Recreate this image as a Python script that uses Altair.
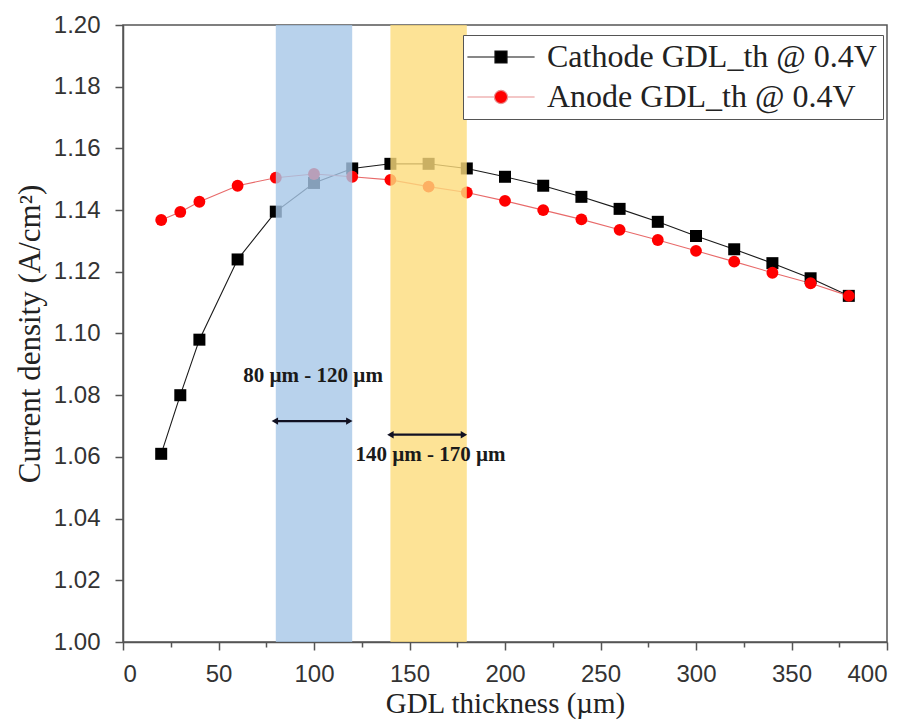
import altair as alt
import pandas as pd

# ---- data ----
thickness = [20, 30, 40, 60, 80, 100, 120, 140, 160, 180, 200, 220, 240, 260, 280, 300, 320, 340, 360, 380]
cathode = [1.061, 1.080, 1.098, 1.124, 1.1395, 1.1488, 1.1535, 1.155, 1.155, 1.1535, 1.1508, 1.1479,
           1.1443, 1.1404, 1.1362, 1.1316, 1.1273, 1.1228, 1.1179, 1.1122]
anode = [1.1368, 1.1394, 1.1427, 1.1479, 1.1505, 1.1517, 1.1508, 1.1498, 1.1476, 1.1457, 1.1430, 1.1400,
         1.1370, 1.1336, 1.1303, 1.1268, 1.1233, 1.1197, 1.1163, 1.1122]
series_names = ["Cathode GDL_th @ 0.4V", "Anode GDL_th @ 0.4V"]

band_start = [80, 140]
band_end = [120, 180]
band_colors = ["#a6c7e7", "#fcdc7c"]

arrow_start = [79.5, 140]
arrow_end = [118.5, 178.5]
arrow_y = [1.0716, 1.0672]
label_text = ["80 \u00b5m - 120 \u00b5m", "140 \u00b5m - 170 \u00b5m"]
label_x = [99.5, 161]
label_y = [1.0862, 1.0606]

x_ticks = list(range(0, 401, 25))
y_ticks = [round(1.0 + 0.01 * i, 2) for i in range(21)]

W, H = 764, 617
SERIF = "Liberation Serif"
SANS = "Liberation Sans"

df = pd.DataFrame({
    "thickness": thickness * 2,
    "value": cathode + anode,
    "series": [series_names[0]] * len(thickness) + [series_names[1]] * len(thickness),
})
bands = pd.DataFrame({"start": band_start, "end": band_end, "color": band_colors})
arrows = pd.DataFrame({"start": arrow_start, "end": arrow_end, "y": arrow_y})
labels = pd.DataFrame({"text": label_text, "x": label_x, "y": label_y})

xscale = alt.Scale(domain=[0, 400], nice=False, zero=False)
yscale = alt.Scale(domain=[1.0, 1.2], nice=False, zero=False)

xaxis = alt.Axis(
    values=x_ticks,
    labelExpr="datum.value % 50 === 0 ? datum.label : ''",
    tickSize={"expr": "datum.value % 50 === 0 ? 8 : 5"},
    title="GDL thickness (\u00b5m)",
    grid=False,
)
yaxis = alt.Axis(
    values=y_ticks,
    format=".2f",
    labelExpr="round(datum.value * 100) % 2 === 0 ? datum.label : ''",
    tickSize={"expr": "round(datum.value * 100) % 2 === 0 ? 8 : 5"},
    title="Current density (A/cm\u00b2)",
    grid=False,
)

X = alt.X("thickness:Q", scale=xscale, axis=xaxis)
Y = alt.Y("value:Q", scale=yscale, axis=yaxis)

base = alt.Chart(df)

cath_line = base.transform_filter(alt.datum.series == series_names[0]).mark_line(
    color="#1a1a1a", strokeWidth=1.1).encode(x=X, y=Y)
an_line = base.transform_filter(alt.datum.series == series_names[1]).mark_line(
    color="#e86a6a", strokeWidth=1.1).encode(x=X, y=Y)
cath_pts = base.transform_filter(alt.datum.series == series_names[0]).mark_point(
    shape="square", filled=True, color="#000000", size=144, opacity=1).encode(x=X, y=Y)
an_pts = base.transform_filter(alt.datum.series == series_names[1]).mark_point(
    shape="circle", filled=True, color="#ff0000", size=140, opacity=1).encode(x=X, y=Y)

band_layer = alt.Chart(bands).mark_rect(opacity=0.8).encode(
    x=alt.X("start:Q", scale=xscale),
    x2="end:Q",
    y=alt.Y(datum=1.0, scale=yscale),
    y2=alt.Y2(datum=1.2),
    fill=alt.Fill("color:N", scale=None, legend=None),
)

arrow_line = alt.Chart(arrows).mark_rule(color="#111122", strokeWidth=2.2).encode(
    x=alt.X("start:Q", scale=xscale), x2="end:Q", y=alt.Y("y:Q", scale=yscale))
arrow_l = alt.Chart(arrows).mark_point(shape="triangle-left", filled=True, color="#111122",
                                       size=55, opacity=1).encode(
    x=alt.X("start:Q", scale=xscale), y=alt.Y("y:Q", scale=yscale))
arrow_r = alt.Chart(arrows).mark_point(shape="triangle-right", filled=True, color="#111122",
                                       size=55, opacity=1).encode(
    x=alt.X("end:Q", scale=xscale), y=alt.Y("y:Q", scale=yscale))
label_layer = alt.Chart(labels).mark_text(font=SERIF, fontSize=21, fontWeight="bold",
                                          color="#1a1a1a").encode(
    x=alt.X("x:Q", scale=xscale), y=alt.Y("y:Q", scale=yscale), text="text:N")

# legend-only layer (no marks drawn, legend comes from the scales)
sq_path = "M-5.6,0H-1M1,0H5.6M-1,-1H1V1H-1Z"
ci_path = "M-5.6,0H-1.1M1.1,0H5.6M1.1,0A1.1,1.1,0,1,1,-1.1,0A1.1,1.1,0,1,1,1.1,0Z"
leg = alt.Legend(
    title=None, orient="none", legendX=340, legendY=10,
    labelFont=SERIF, labelFontSize=32, labelColor="#222", labelLimit=500,
    symbolSize=144, symbolStrokeWidth=1.2, symbolOpacity=1,
    symbolOffset=16, labelOffset=30, rowPadding=8,
    strokeColor="#555", fillColor="#ffffff", padding=6,
)
legend_layer = base.transform_filter("false").mark_point(filled=True, opacity=1).encode(
    x=X, y=Y,
    color=alt.Color("series:N", scale=alt.Scale(domain=series_names, range=["#000000", "#ff0000"]), legend=leg),
    stroke=alt.Stroke("series:N", scale=alt.Scale(domain=series_names, range=["#111111", "#e89090"]), legend=leg),
    shape=alt.Shape("series:N", scale=alt.Scale(domain=series_names, range=[sq_path, ci_path]), legend=leg),
)

chart = alt.layer(
    cath_line, an_line, cath_pts, an_pts, band_layer,
    arrow_line, arrow_l, arrow_r, label_layer, legend_layer,
).properties(
    width=W, height=H,
    autosize=alt.AutoSizeParams(type="none"),
    padding={"left": 115, "top": 17, "right": 17, "bottom": 80},
).configure_view(
    stroke="#555555", strokeWidth=1.5,
).configure_legend(
    labelFont=SERIF, labelFontSize=32, labelColor="#222222",
).configure_axis(
    domainColor="#555555", domainWidth=1.5, tickColor="#555555", tickWidth=1.5,
    labelFont=SANS, labelFontSize=24, labelColor="#333333",
    titleFont=SERIF, titleFontWeight="normal", titleColor="#222222",
).configure_axisX(
    labelPadding=12, titlePadding=3, titleFontSize=29,
).configure_axisY(
    labelPadding=15, titlePadding=7, titleFontSize=31,
)

chart.save("out.html", embed_options={"renderer": "svg", "actions": False})
